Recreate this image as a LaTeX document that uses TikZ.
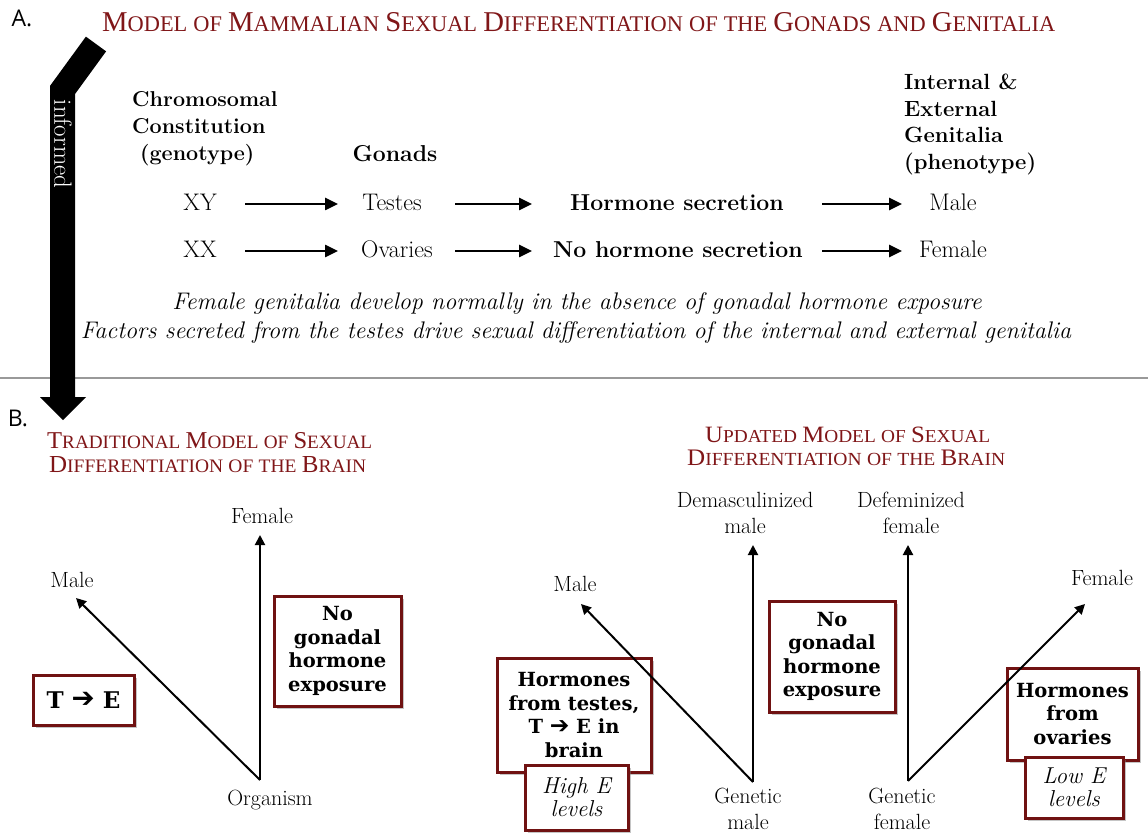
\documentclass[tikz,border=0pt]{standalone}
\usepackage{fontspec}
\usepackage{graphicx}
\usetikzlibrary{arrows.meta,shadows}
\newfontfamily\boxfont{DejaVu Serif}
\newfontfamily\labfont{Open Sans}
\newfontfamily\symfont{DejaVu Sans}
\newfontfamily\ttlfont{Liberation Serif}
\definecolor{ttl}{RGB}{128,22,24}
\definecolor{bord}{RGB}{112,18,18}
\newcommand{\harr}{{\symfont\bfseries\raisebox{0.5pt}{\scalebox{1.2}{➔}}}}
\newcommand{\sw}[2]{{\fontsize{20}{20}\selectfont #1}{\fontsize{15.6}{16}\selectfont #2}}
\begin{document}
\begin{tikzpicture}[x=1pt,y=-1pt,
  txt/.style={inner sep=0pt, font=\fontsize{24}{28}\selectfont},
  btxt/.style={inner sep=0pt, font=\fontsize{23}{28}\selectfont\bfseries},
  hdr/.style={inner sep=0pt, align=left, font=\fontsize{21.5}{27}\selectfont\bfseries},
  note/.style={inner sep=0pt, font=\fontsize{24}{28}\selectfont\itshape},
  blab/.style={inner sep=0pt, align=center, font=\fontsize{22}{25.5}\selectfont},
  ttlnode/.style={inner sep=0pt, text=ttl, font=\ttlfont\fontsize{17}{20}\selectfont},
  hbox/.style={draw=bord, line width=3pt, fill=white, align=center, inner sep=0pt,
    drop shadow={opacity=0.45, shadow xshift=2.5pt, shadow yshift=-2.5pt},
    font=\boxfont\bfseries\fontsize{19.5}{23.5}\selectfont},
  ibox/.style={hbox, font=\fontsize{23}{23}\selectfont\itshape},
  aA/.style={line width=2.5pt, -{Triangle[length=13pt,width=12pt]}},
  aB/.style={line width=2pt, -{Triangle[length=10pt,width=10pt]}},
]
\useasboundingbox (0,0) rectangle (1148,834);
\fill[white] (0,0) rectangle (1148,834);

% separator
\draw[line width=1.5pt, black!40] (0,378) -- (1148,378);

% informed arrow
\coordinate (inA) at (96,44);
\coordinate (inB) at (62.5,90);
\coordinate (inC) at (62.5,399);
\draw[line width=25pt, line join=miter] (inA) -- (inB) -- (inC);
\fill (40,397) -- (86,397) -- (63,420) -- cycle;
\node[inner sep=0pt, text=white, rotate=-90, font=\fontsize{25}{28}\selectfont] (informed) at (63,144) {informed};

% labels A. B.
\node[inner sep=0pt, font=\labfont\fontsize{23}{26}\selectfont] (labA) at (22,18) {A.};
\node[inner sep=0pt, font=\labfont\fontsize{23}{26}\selectfont] (labB) at (18,418) {B.};

% main title
\node[ttlnode, anchor=base west] (title) at (102,32)
  {\resizebox{953pt}{19pt}{\sw{M}{ODEL} \sw{}{OF} \sw{M}{AMMALIAN} \sw{S}{EXUAL} \sw{D}{IFFERENTIATION} \sw{}{OF} \sw{}{THE} \sw{G}{ONADS} \sw{}{AND} \sw{G}{ENITALIA}}};

% headers section A
\node[hdr, anchor=north west] (chrom) at (132,91) {Chromosomal\\Constitution\\\hspace*{8pt}(genotype)};
\node[btxt, anchor=base] (gonads) at (395,162) {Gonads};
\node[hdr, anchor=north west, font=\fontsize{22}{26.5}\selectfont\bfseries] (pheno) at (904,74) {Internal \&\\External\\Genitalia\\(phenotype)};

% rows
\node[txt, anchor=base] (xy) at (200,211) {XY};
\node[txt, anchor=base] (testes) at (392,211) {Testes};
\node[btxt, anchor=base] (hs) at (677,211) {Hormone secretion};
\node[txt, anchor=base] (male) at (953,211) {Male};
\node[txt, anchor=base] (xx) at (200,258) {XX};
\node[txt, anchor=base] (ovaries) at (397,258) {Ovaries};
\node[btxt, anchor=base] (nhs) at (678,258) {No hormone secretion};
\node[txt, anchor=base] (female) at (953,258) {Female};

\coordinate (r1a) at (245,204); \coordinate (r1b) at (338,204);
\coordinate (r1c) at (455,204); \coordinate (r1d) at (532,204);
\coordinate (r1e) at (822,204); \coordinate (r1f) at (902,204);
\coordinate (r2a) at (245,251); \coordinate (r2b) at (338,251);
\coordinate (r2c) at (455,251); \coordinate (r2d) at (532,251);
\coordinate (r2e) at (822,251); \coordinate (r2f) at (902,251);
\draw[aA] (r1a) -- (r1b); \draw[aA] (r1c) -- (r1d); \draw[aA] (r1e) -- (r1f);
\draw[aA] (r2a) -- (r2b); \draw[aA] (r2c) -- (r2d); \draw[aA] (r2e) -- (r2f);

% notes
\node[note, anchor=base] (note1) at (577,309) {Female genitalia develop normally in the absence of gonadal hormone exposure};
\node[note, anchor=base] (note2) at (576,338) {Factors secreted from the testes drive sexual differentiation of the internal and external genitalia};

% section B titles
\node[ttlnode, anchor=base west] (tt1) at (47,448) {\resizebox{325pt}{16pt}{\sw{T}{RADITIONAL} \sw{M}{ODEL} \sw{}{OF} \sw{S}{EXUAL}}};
\node[ttlnode, anchor=base west] (tt2) at (49,472) {\resizebox{317pt}{16pt}{\sw{D}{IFFERENTIATION} \sw{}{OF} \sw{}{THE} \sw{B}{RAIN}}};
\node[ttlnode, anchor=base west] (ut1) at (705,442) {\resizebox{285pt}{15.5pt}{\sw{U}{PDATED} \sw{M}{ODEL} \sw{}{OF} \sw{S}{EXUAL}}};
\node[ttlnode, anchor=base west] (ut2) at (687,465) {\resizebox{318pt}{15.5pt}{\sw{D}{IFFERENTIATION} \sw{}{OF} \sw{}{THE} \sw{B}{RAIN}}};

% traditional model
\node[blab] (organism) at (270,800) {Organism};
\node[blab] (tfem) at (262,516) {Female};
\node[blab] (tmale) at (72,580) {Male};
\coordinate (o1) at (260,780);
\coordinate (t1f) at (260,535);
\coordinate (t1m) at (76,598);
\node[hbox, minimum width=101pt, minimum height=50pt, font=\boxfont\bfseries\fontsize{23}{26}\selectfont] (bte) at (83.5,700) {T \harr\ E};
\node[hbox, minimum width=127pt, minimum height=110pt] (bn1) at (337.5,651) {No\\gonadal\\hormone\\exposure};
\draw[aB] (o1) -- (t1f);
\draw[aB] (o1) -- (t1m);

% updated model
\node[blab] (dmale) at (745,513) {Demasculinized\\male};
\node[blab] (dfem) at (911,513) {Defeminized\\female};
\node[blab] (umale) at (575,584) {Male};
\node[blab] (ufem) at (1102,578) {Female};
\node[blab] (gmale) at (748,809) {Genetic\\male};
\node[blab] (gfem) at (902,809) {Genetic\\female};
\coordinate (o2) at (753,782);
\coordinate (o3) at (908,781);
\coordinate (t2d) at (753,545);
\coordinate (t2m) at (581,604);
\coordinate (t3d) at (908,545);
\coordinate (t3f) at (1085,604);

\node[hbox, minimum width=154pt, minimum height=114pt] (bht) at (574,715) {Hormones\\from testes,\\T \harr\ E in\\brain};
\node[ibox, minimum width=103pt, minimum height=65pt] (bhe) at (576.5,797.5) {High E\\levels};
\node[hbox, minimum width=131pt, minimum height=92pt] (bho) at (1072.5,714) {Hormones\\from\\ovaries};
\node[ibox, minimum width=98pt, minimum height=61pt] (ble) at (1074,787.5) {Low E\\levels};
\node[hbox, minimum width=126pt, minimum height=111pt] (bn2) at (832,656.5) {No\\gonadal\\hormone\\exposure};

\draw[aB] (o2) -- (t2d);
\draw[aB] (o2) -- (t2m);
\draw[aB] (o3) -- (t3d);
\draw[aB] (o3) -- (t3f);
\end{tikzpicture}
\end{document}
